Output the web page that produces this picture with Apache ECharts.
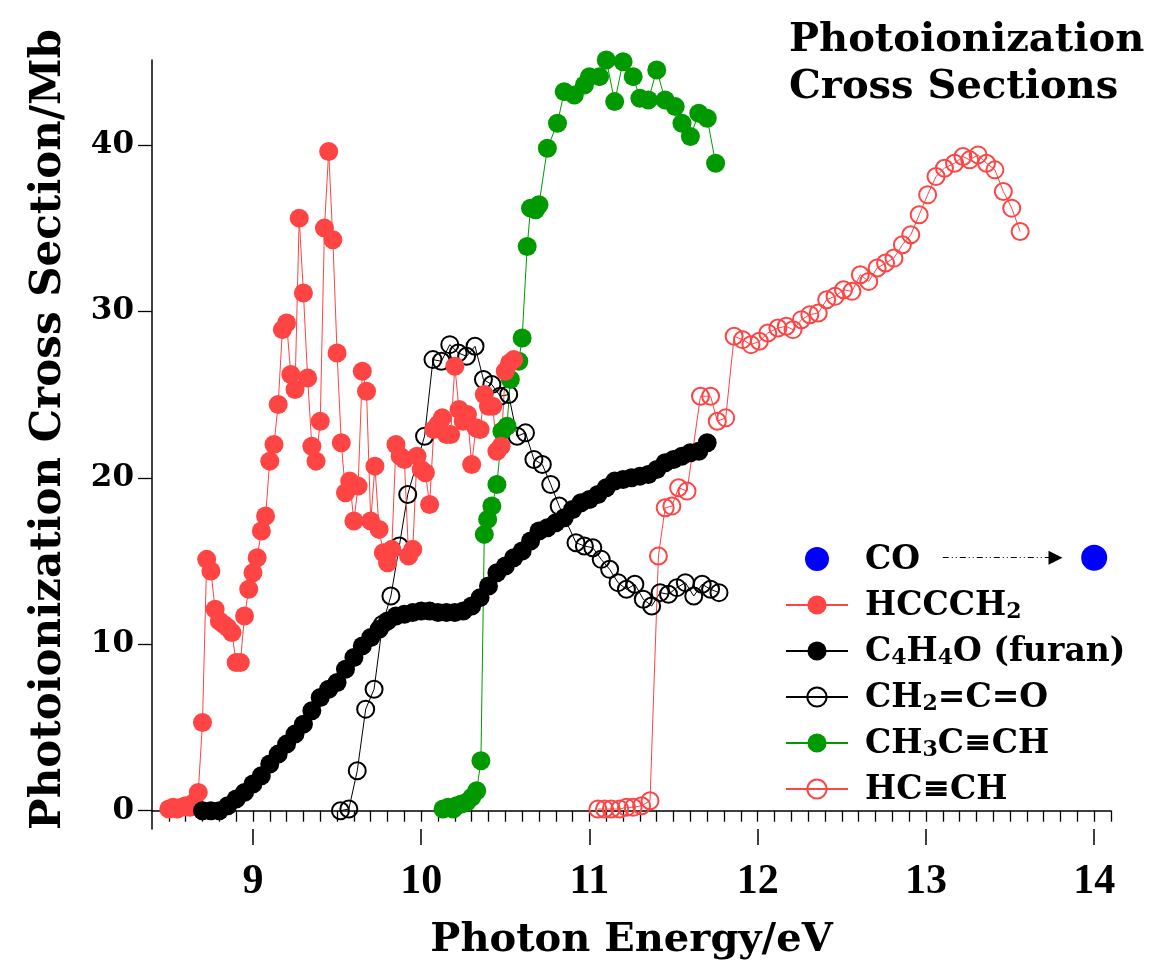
<!DOCTYPE html>
<html>
<head>
<meta charset="utf-8">
<script src="https://cdn.jsdelivr.net/npm/echarts@6/dist/echarts.min.js"></script>
<style>
  html, body { margin: 0; padding: 0; background: #fff; }
  #main { width: 1152px; height: 972px; }
</style>
</head>
<body>
<div id="main"></div>
<script>
// values: photon energy (eV) and cross section (Mb)
const hcccEnergy = [8.50, 8.525, 8.55, 8.575, 8.60, 8.625, 8.65, 8.675, 8.70, 8.725, 8.75, 8.775, 8.80, 8.825, 8.85,
  8.875, 8.90, 8.925, 8.95, 8.975, 9.00, 9.025, 9.05, 9.075, 9.10, 9.125, 9.15, 9.175, 9.20, 9.225, 9.25, 9.275,
  9.30, 9.325, 9.35, 9.375, 9.40, 9.425, 9.45, 9.475, 9.50, 9.525, 9.55, 9.575, 9.60, 9.625, 9.65, 9.675, 9.70,
  9.725, 9.75, 9.775, 9.80, 9.825, 9.85, 9.875, 9.90, 9.925, 9.95, 9.975, 10.00, 10.025, 10.05, 10.075, 10.10,
  10.125, 10.15, 10.175, 10.20, 10.225, 10.25, 10.275, 10.30, 10.325, 10.35, 10.375, 10.40, 10.425, 10.45,
  10.475, 10.50, 10.525, 10.55];
const hcccCross = [0.1, 0.2, 0.1, 0.2, 0.3, 0.2, 0.5, 1.1, 5.3, 15.1, 14.4, 12.1, 11.4, 11.2, 11.0,
  10.7, 8.9, 8.9, 11.7, 13.3, 14.3, 15.2, 16.8, 17.7, 21.0, 22.0, 24.4, 28.9, 29.3, 26.2, 25.3, 35.6,
  31.1, 26.0, 21.9, 21.0, 23.4, 35.0, 39.6, 34.3, 27.5, 22.1, 19.1, 19.8, 17.4, 19.5, 26.4, 25.2, 17.4,
  20.7, 16.9, 15.5, 14.9, 15.7, 22.0, 21.3, 21.1, 15.3, 15.7, 21.3, 20.5, 20.3, 18.4, 22.9, 23.2,
  23.6, 22.6, 22.6, 26.7, 24.1, 23.4, 23.8, 20.8, 23.0, 22.9, 25.0, 24.3, 24.3, 21.6,
  21.9, 26.4, 26.9, 27.1];

const furanEnergy = [8.70, 8.75, 8.80, 8.85, 8.90, 8.95, 9.00, 9.05, 9.10, 9.15, 9.20, 9.25, 9.30, 9.35, 9.40,
  9.45, 9.50, 9.55, 9.60, 9.65, 9.70, 9.75, 9.80, 9.85, 9.90, 9.95, 10.00, 10.05, 10.10, 10.15, 10.20, 10.25,
  10.30, 10.35, 10.40, 10.45, 10.50, 10.55, 10.60, 10.65, 10.70, 10.75, 10.80, 10.85, 10.90, 10.95, 11.00,
  11.05, 11.10, 11.15, 11.20, 11.25, 11.30, 11.35, 11.40, 11.45, 11.50, 11.55, 11.60, 11.65, 11.70];
const furanCross = [0.0, 0.0, 0.0, 0.3, 0.7, 1.1, 1.6, 2.1, 2.8, 3.4, 4.0, 4.6, 5.2, 6.0, 6.8,
  7.3, 7.7, 8.5, 9.2, 9.9, 10.4, 10.9, 11.4, 11.7, 11.8, 11.9, 12.0, 12.0, 11.9, 11.9, 11.9, 12.0,
  12.3, 12.8, 13.5, 14.3, 14.7, 15.2, 15.6, 16.2, 16.8, 17.0, 17.3, 17.6, 18.1, 18.5, 18.7,
  19.0, 19.4, 19.8, 19.9, 20.0, 20.1, 20.2, 20.5, 20.9, 21.1, 21.3, 21.5, 21.6, 22.1];

const keteneEnergy = [9.52, 9.57, 9.62, 9.67, 9.72, 9.77, 9.82, 9.87, 9.92, 10.02, 10.07, 10.12, 10.17, 10.22,
  10.27, 10.32, 10.37, 10.42, 10.47, 10.52, 10.57, 10.62, 10.67, 10.72, 10.77, 10.82, 10.92, 10.97, 11.02,
  11.07, 11.12, 11.17, 11.22, 11.27, 11.32, 11.37, 11.42, 11.47, 11.52, 11.57, 11.62, 11.67, 11.72, 11.77];
const keteneCross = [0.0, 0.1, 2.4, 6.1, 7.3, 11.2, 12.9, 15.9, 19.0, 22.5, 27.1, 27.0, 28.0, 27.5,
  27.3, 27.9, 25.9, 25.6, 24.9, 25.0, 22.5, 22.7, 21.1, 20.8, 19.6, 18.3, 16.1, 15.9, 15.8,
  15.1, 14.5, 13.7, 13.3, 13.6, 12.7, 12.3, 13.1, 13.0, 13.4, 13.7, 12.9, 13.6, 13.3, 13.1];

const propyneEnergy = [10.13, 10.16, 10.19, 10.21, 10.24, 10.27, 10.30, 10.33, 10.355, 10.375, 10.395, 10.42,
  10.45, 10.48, 10.51, 10.53, 10.58, 10.60, 10.63, 10.65, 10.68, 10.70, 10.75, 10.81, 10.85, 10.91, 10.97,
  11.00, 11.06, 11.10, 11.15, 11.20, 11.26, 11.30, 11.35, 11.40, 11.45, 11.51, 11.55, 11.60, 11.65, 11.70, 11.75];
const propyneCross = [0.1, 0.2, 0.1, 0.3, 0.4, 0.5, 0.8, 1.2, 3.0, 16.6, 17.5, 18.3,
  19.6, 22.8, 23.1, 25.9, 27.0, 28.4, 33.9, 36.2, 36.1, 36.4, 39.8, 41.3, 43.2, 43.0, 43.6,
  44.1, 44.1, 45.1, 42.6, 45.0, 44.1, 42.8, 42.7, 44.5, 42.7, 42.3, 41.3, 40.5, 41.9, 41.6, 38.9];

const acetyleneEnergy = [11.05, 11.09, 11.13, 11.18, 11.22, 11.26, 11.31, 11.36, 11.41, 11.45, 11.49, 11.53,
  11.58, 11.66, 11.72, 11.76, 11.81, 11.86, 11.91, 11.96, 12.01, 12.06, 12.12, 12.17, 12.21, 12.26, 12.31,
  12.36, 12.41, 12.46, 12.51, 12.56, 12.61, 12.66, 12.71, 12.76, 12.81, 12.86, 12.91, 12.96, 13.01, 13.06,
  13.11, 13.17, 13.22, 13.26, 13.31, 13.36, 13.41, 13.46, 13.51, 13.56];
const acetyleneCross = [0.1, 0.1, 0.1, 0.1, 0.2, 0.2, 0.3, 0.6, 15.3, 18.2, 18.3, 19.4,
  19.2, 24.9, 24.9, 23.4, 23.6, 28.5, 28.3, 28.0, 28.2, 28.7, 29.0, 29.1, 28.9, 29.5, 29.8,
  29.9, 30.7, 30.9, 31.3, 31.2, 32.2, 31.8, 32.6, 32.9, 33.2, 34.0, 34.6, 35.8, 37.0, 38.1,
  38.6, 38.9, 39.3, 39.1, 39.4, 38.9, 38.5, 37.2, 36.2, 34.8];

const coEnergy = [14.0];
const coCross = [15.2];

const xTickLabels = [9, 10, 11, 12, 13, 14];
const yTickLabels = [0, 10, 20, 30, 40];

const serif = 'DejaVu Serif';

// minor ticks every 0.1 eV along the energy axis
const minorTicks = [];
for (let i = 85; i <= 141; i++) minorTicks.push(i / 10);

function zip(xs, ys) {
  return xs.map((x, i) => [x, ys[i]]);
}

function lineSeries(name, xs, ys, color, hollow) {
  return {
    name: name,
    type: 'line',
    color: color,
    data: zip(xs, ys),
    symbol: 'circle',
    symbolSize: hollow ? 17 : 19,
    showAllSymbol: true,
    lineStyle: { color: color, width: 1 },
    itemStyle: hollow
      ? { color: 'rgba(255,255,255,0)', borderColor: color, borderWidth: 2 }
      : { color: color },
    emphasis: { disabled: true },
  };
}

const myChart = echarts.init(document.getElementById('main'));

const option = {
  animation: false,
  backgroundColor: '#fff',
  title: {
    text: 'Photoionization\nCross Sections',
    left: 784,
    top: 12,
    textStyle: { fontFamily: serif, fontWeight: 'bold', fontSize: 40, lineHeight: 47, color: '#000' },
  },
  legend: {
    orient: 'vertical',
    left: 780,
    top: 539,
    itemWidth: 62,
    itemHeight: 24,
    itemGap: 13,
    selectedMode: false,
    data: ['CO', 'HCCCH2', 'C4H4O (furan)', 'CH2=C=O', 'CH3C≡CH', 'HC≡CH'],
    formatter: function (name) {
      // digits become subscripts
      return '{sp| }{n|' + name.replace(/(\d)/g, '}{s|$1}{n|') + '}';
    },
    textStyle: {
      color: '#000',
      rich: {
        sp: { width: 12 },
        n: { fontFamily: serif, fontWeight: 'bold', fontSize: 33, lineHeight: 36, verticalAlign: 'bottom', color: '#000' },
        s: { fontFamily: serif, fontWeight: 'bold', fontSize: 22, lineHeight: 12, verticalAlign: 'bottom', color: '#000' },
      },
    },
  },
  grid: { left: 152, right: 41, top: 60, bottom: 143, containLabel: false },
  xAxis: [
    {
      type: 'value',
      min: 8.4,
      max: 14.1,
      name: 'Photon Energy/eV',
      nameLocation: 'middle',
      nameGap: 92,
      nameTextStyle: { fontFamily: serif, fontWeight: 'bold', fontSize: 40, color: '#000' },
      axisLine: { show: true, lineStyle: { color: '#000', width: 1.5 } },
      axisTick: { show: true, customValues: minorTicks, length: 11, lineStyle: { color: '#000', width: 1.3 } },
      axisLabel: {
        customValues: xTickLabels,
        margin: 32,
        fontFamily: 'Liberation Serif',
        fontWeight: 'bold',
        fontSize: 42,
        color: '#000',
      },
      splitLine: { show: false },
    },
    {
      type: 'value',
      min: 8.4,
      max: 14.1,
      position: 'bottom',
      axisLine: { show: false },
      axisTick: { show: true, customValues: xTickLabels, length: 16, lineStyle: { color: '#000', width: 1.5 } },
      axisLabel: { show: false },
      splitLine: { show: false },
    },
  ],
  yAxis: {
    type: 'value',
    min: -1.1,
    max: 45.1,
    name: 'Photoionization Cross Section/Mb',
    nameLocation: 'middle',
    nameGap: 82,
    nameRotate: 90,
    nameTextStyle: { fontFamily: serif, fontWeight: 'bold', fontSize: 42, color: '#000', padding: [0, 0, 0, 30] },
    axisLine: { show: true, lineStyle: { color: '#000', width: 1.5 } },
    axisTick: { show: true, customValues: yTickLabels, length: 14, lineStyle: { color: '#000', width: 1.3 } },
    axisLabel: {
      customValues: yTickLabels,
      margin: 18,
      fontFamily: serif,
      fontWeight: 'bold',
      fontSize: 31,
      color: '#000',
    },
    splitLine: { show: false },
  },
  series: [
    lineSeries('CH2=C=O', keteneEnergy, keteneCross, '#000000', true),
    lineSeries('CH3C≡CH', propyneEnergy, propyneCross, '#009900', false),
    lineSeries('HCCCH2', hcccEnergy, hcccCross, '#ff4444', false),
    lineSeries('C4H4O (furan)', furanEnergy, furanCross, '#000000', false),
    lineSeries('HC≡CH', acetyleneEnergy, acetyleneCross, '#ff4444', true),
    {
      name: 'CO',
      type: 'scatter',
      color: '#0000ff',
      data: zip(coEnergy, coCross),
      symbolSize: 26,
      itemStyle: { color: '#0000ff', opacity: 1 },
      emphasis: { disabled: true },
      // dash-dot arrow from the legend entry out to the CO point
      markLine: {
        silent: true,
        symbol: ['none', 'triangle'],
        symbolSize: 14,
        label: { show: false },
        lineStyle: { color: '#000', width: 1, type: [6, 3, 1, 3, 1, 3] },
        data: [[{ coord: [13.1, 15.2] }, { coord: [13.77, 15.2] }]],
      },
    },
  ],
};

myChart.setOption(option);
</script>
</body>
</html>
